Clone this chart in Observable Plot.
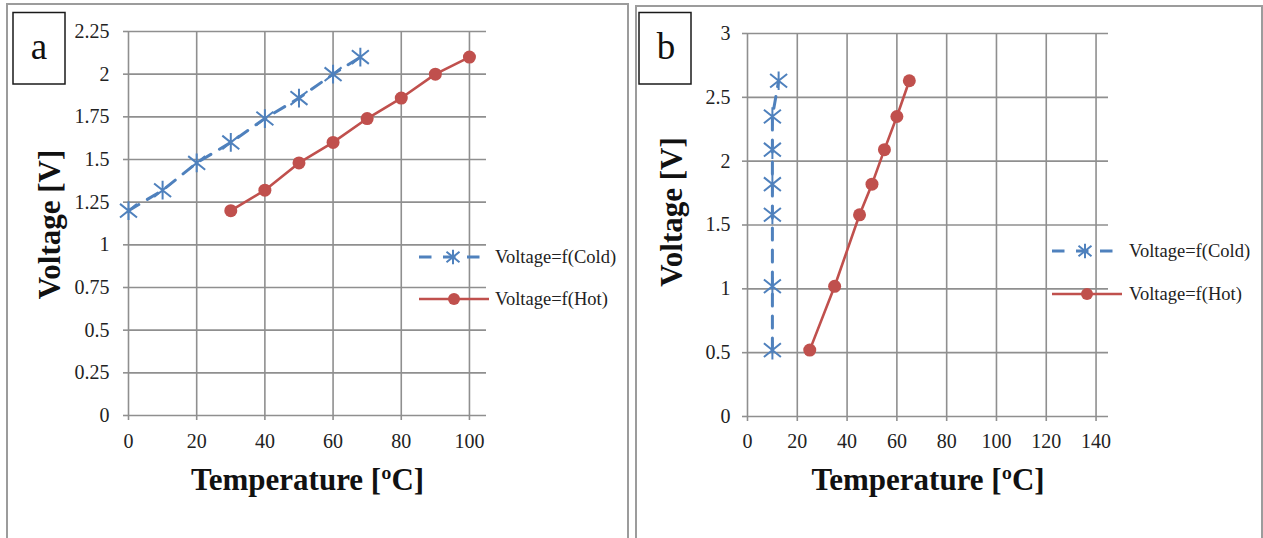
<!DOCTYPE html>
<html>
<head>
<meta charset="utf-8">
<script src="https://cdn.jsdelivr.net/npm/d3@7"></script>
<script src="https://cdn.jsdelivr.net/npm/@observablehq/plot@0.6"></script>
<style>
  html, body { margin: 0; padding: 0; background: #fff; }
  #root { position: relative; width: 1263px; height: 538px; overflow: hidden; background: #fff; font-family: "Liberation Serif", serif; }
  .plot { position: absolute; top: 0; }
  #overlay { position: absolute; left: 0; top: 0; pointer-events: none; }
</style>
</head>
<body>
<div id="root"></div>
<script>
// ---------- data ----------
const tempColdA = [0, 10, 20, 30, 40, 50, 60, 68];
const voltColdA = [1.2, 1.32, 1.48, 1.6, 1.74, 1.86, 2.0, 2.1];
const tempHotA  = [30, 40, 50, 60, 70, 80, 90, 100];
const voltHotA  = [1.2, 1.32, 1.48, 1.6, 1.74, 1.86, 2.0, 2.1];

const tempColdB = [10, 10, 10, 10, 10, 10, 12.5];
const voltColdB = [0.52, 1.02, 1.58, 1.82, 2.09, 2.35, 2.63];
const tempHotB  = [25, 35, 45, 50, 55, 60, 65];
const voltHotB  = [0.52, 1.02, 1.58, 1.82, 2.09, 2.35, 2.63];

const xTicksA = [0, 20, 40, 60, 80, 100];
const yTicksA = [0, 0.25, 0.5, 0.75, 1, 1.25, 1.5, 1.75, 2, 2.25];
const xTicksB = [0, 20, 40, 60, 80, 100, 120, 140];
const yTicksB = [0, 0.5, 1, 1.5, 2, 2.5, 3];

const seriesNames = ["Voltage=f(Cold)", "Voltage=f(Hot)"];
const panelLetters = ["a", "b"];
const xTitle = "Temperature [ºC]";
const yTitle = "Voltage [V]";

// ---------- styles ----------
const BLUE = "#4F81BD";
const RED = "#C0504D";
const GRID = "#8f8f8f";
const FONT = "'Liberation Serif', serif";

const asterisk = {
  draw(ctx, size) {
    const r = Math.sqrt(size / Math.PI);
    ctx.moveTo(0, -r * 1.1); ctx.lineTo(0, r * 1.1);
    ctx.moveTo(-r, -r * 0.8); ctx.lineTo(r, r * 0.8);
    ctx.moveTo(-r, r * 0.8); ctx.lineTo(r, -r * 0.8);
  }
};

const zip = (xs, ys) => xs.map((x, i) => ({x, y: ys[i]}));

function panel(cfg) {
  const cold = zip(cfg.coldX, cfg.coldY);
  const hot = zip(cfg.hotX, cfg.hotY);
  return Plot.plot({
    width: cfg.width,
    height: 538,
    marginLeft: cfg.mL, marginRight: cfg.mR, marginTop: cfg.mT, marginBottom: cfg.mB,
    style: {fontFamily: FONT, fontSize: "20px", background: "transparent", overflow: "visible", color: "#222"},
    x: {domain: cfg.xDomain},
    y: {domain: cfg.yDomain},
    marks: [
      Plot.ruleY(cfg.yTicks, {stroke: GRID, strokeWidth: 1.6}),
      Plot.ruleX(cfg.xTicks, {stroke: GRID, strokeWidth: 1.6}),
      Plot.axisX({ticks: cfg.xTicks, tickSize: 5, tickPadding: cfg.xPad, stroke: GRID, strokeWidth: 1.6, fill: "#222", tickFormat: d => String(d), label: null}),
      Plot.axisY({ticks: cfg.yTicks, tickSize: 5, tickPadding: cfg.yPad, stroke: GRID, strokeWidth: 1.6, fill: "#222", tickFormat: d => String(d), label: null}),
      Plot.line(cold, {x: "x", y: "y", stroke: BLUE, strokeWidth: 3, strokeDasharray: "12,10"}),
      Plot.dot(cold, {x: "x", y: "y", r: 8.5, symbol: asterisk, stroke: BLUE, strokeWidth: 2, fill: "none"}),
      Plot.line(hot, {x: "x", y: "y", stroke: RED, strokeWidth: 2.6}),
      Plot.dot(hot, {x: "x", y: "y", r: 6.5, fill: RED, stroke: "none"}),
      Plot.text([xTitle], {text: d => d, frameAnchor: "bottom", dy: cfg.xtDy, textAnchor: "middle", lineAnchor: "middle", fontSize: 31, fontWeight: "bold", fill: "#111"}),
      Plot.text([yTitle], {text: d => d, frameAnchor: "left", dx: cfg.ytDx, dy: cfg.ytDy, rotate: -90, textAnchor: "middle", lineAnchor: "middle", fontSize: 31, fontWeight: "bold", fill: "#111"})
    ]
  });
}

const root = document.getElementById("root");

const pa = panel({
  width: 630, mL: 128, mR: 144, mT: 31, mB: 123,
  xDomain: [0, 105], yDomain: [0, 2.25], xTicks: xTicksA, yTicks: yTicksA,
  xPad: 13, yPad: 14, xtDy: 65, ytDx: -78, ytDy: 1,
  coldX: tempColdA, coldY: voltColdA, hotX: tempHotA, hotY: voltHotA
});
pa.classList.add("plot"); pa.style.left = "0px";
root.appendChild(pa);

const pb = panel({
  width: 631, mL: 115, mR: 155, mT: 33, mB: 122,
  xDomain: [0, 145], yDomain: [0, 3], xTicks: xTicksB, yTicks: yTicksB,
  xPad: 12, yPad: 12, xtDy: 64, ytDx: -75, ytDy: -13,
  coldX: tempColdB, coldY: voltColdB, hotX: tempHotB, hotY: voltHotB
});
pb.classList.add("plot"); pb.style.left = "632px";
root.appendChild(pb);

// ---------- overlay: panel frames, letter boxes, legends ----------
const svg = d3.select(root).append("svg").attr("id", "overlay").attr("width", 1263).attr("height", 538);

svg.append("path").attr("d", "M7,560V4H628V560").attr("fill", "none").attr("stroke", "#9c9c9c").attr("stroke-width", 2);
svg.append("path").attr("d", "M636,560V6H1262V560").attr("fill", "none").attr("stroke", "#9c9c9c").attr("stroke-width", 2);

const boxes = [{x: 13, y: 12.5, tx: 39, ty: 58.5}, {x: 639, y: 12.5, tx: 666, ty: 59}];
boxes.forEach((b, i) => {
  svg.append("rect").attr("x", b.x).attr("y", b.y).attr("width", 52).attr("height", 71.5)
    .attr("fill", "none").attr("stroke", "#1a1a1a").attr("stroke-width", 1.5);
  svg.append("text").attr("x", b.tx).attr("y", b.ty).attr("text-anchor", "middle")
    .attr("font-family", FONT).attr("font-size", 37).attr("fill", "#111").text(panelLetters[i]);
});

function astPath(cx, cy, r) {
  return `M${cx},${cy - r * 1.1}L${cx},${cy + r * 1.1}M${cx - r},${cy - r * 0.8}L${cx + r},${cy + r * 0.8}M${cx - r},${cy + r * 0.8}L${cx + r},${cy - r * 0.8}`;
}

const legends = [
  {x0: 419, cy: 257, hy: 299, cm: 453, hm: 454, tx: 495},
  {x0: 1052, cy: 251, hy: 294, cm: 1085, hm: 1087, tx: 1129}
];
legends.forEach(L => {
  svg.append("line").attr("x1", L.x0).attr("x2", L.x0 + 72).attr("y1", L.cy).attr("y2", L.cy)
    .attr("stroke", BLUE).attr("stroke-width", 3).attr("stroke-dasharray", "12.5,11.5");
  svg.append("path").attr("d", astPath(L.cm, L.cy, 6.5)).attr("stroke", BLUE).attr("stroke-width", 2).attr("fill", "none");
  svg.append("line").attr("x1", L.x0).attr("x2", L.x0 + 70).attr("y1", L.hy).attr("y2", L.hy)
    .attr("stroke", RED).attr("stroke-width", 2.6);
  svg.append("circle").attr("cx", L.hm).attr("cy", L.hy).attr("r", 6).attr("fill", RED);
  svg.append("text").attr("x", L.tx).attr("y", L.cy + 6.3).attr("font-family", FONT).attr("font-size", 18.5).attr("fill", "#222").text(seriesNames[0]);
  svg.append("text").attr("x", L.tx).attr("y", L.hy + 6.3).attr("font-family", FONT).attr("font-size", 18.5).attr("fill", "#222").text(seriesNames[1]);
});
</script>
</body>
</html>
